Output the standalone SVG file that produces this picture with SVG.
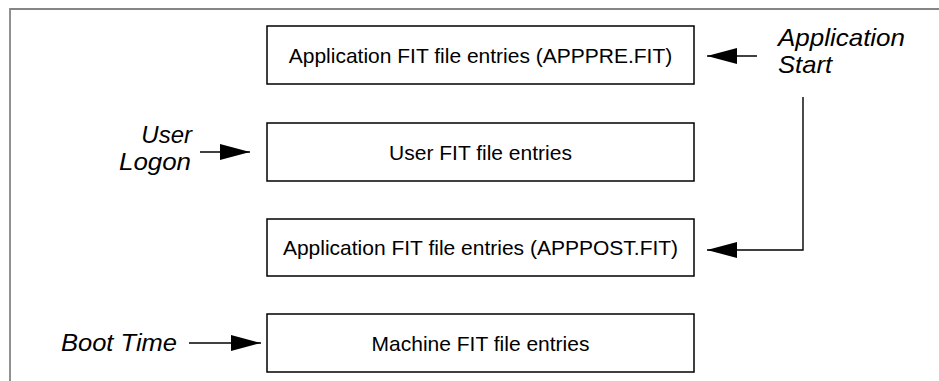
<svg xmlns="http://www.w3.org/2000/svg" width="939" height="381" viewBox="0 0 939 381">
<style>
.frame{fill:none;stroke:#858585;stroke-width:1.8}
.box{fill:#fff;stroke:#000;stroke-width:1.5}
.bt{font-family:"Liberation Sans",Arial,sans-serif;font-size:21px;fill:#000;text-anchor:middle}
.lb{font-family:"Liberation Sans",Arial,sans-serif;font-size:24px;font-style:italic;fill:#000}
.conn{fill:none;stroke:#000;stroke-width:1.4}
</style>
<defs>
<marker id="ah" markerUnits="userSpaceOnUse" markerWidth="30" markerHeight="16" refX="30" refY="8" orient="auto">
<path d="M0,0 L30,8 L0,16 z" fill="#000"/>
</marker>
</defs>
<rect width="939" height="381" fill="#fff"/>
<path class="frame" d="M10,381 V9 H939"/>
<g id="node-apppre">
<rect class="box" x="267" y="26" width="427" height="58"/>
<text class="bt" x="480.5" y="62.5">Application FIT file entries (APPPRE.FIT)</text>
</g>
<g id="node-user">
<rect class="box" x="267" y="123" width="427" height="58"/>
<text class="bt" x="480.5" y="159.5">User FIT file entries</text>
</g>
<g id="node-apppost">
<rect class="box" x="267" y="219" width="427" height="57"/>
<text class="bt" x="480.5" y="255">Application FIT file entries (APPPOST.FIT)</text>
</g>
<g id="node-machine">
<rect class="box" x="267" y="314" width="427" height="58"/>
<text class="bt" x="480.5" y="350.5">Machine FIT file entries</text>
</g>
<g id="label-appstart">
<text class="lb" x="778" y="46" textLength="127" lengthAdjust="spacingAndGlyphs">Application</text>
<text class="lb" x="778" y="73" textLength="54" lengthAdjust="spacingAndGlyphs">Start</text>
</g>
<g id="label-userlogon">
<text class="lb" x="192" y="143" text-anchor="end">User</text>
<text class="lb" x="191" y="170" text-anchor="end" textLength="72" lengthAdjust="spacingAndGlyphs">Logon</text>
</g>
<g id="label-boottime">
<text class="lb" x="177" y="351" text-anchor="end" textLength="116" lengthAdjust="spacingAndGlyphs">Boot Time</text>
</g>
<g id="connectors">
<line class="conn" x1="757" y1="56" x2="707" y2="56" marker-end="url(#ah)"/>
<line class="conn" x1="200" y1="152" x2="250" y2="152" marker-end="url(#ah)"/>
<polyline class="conn" points="803,97 803,250 707,250" marker-end="url(#ah)"/>
<line class="conn" x1="189" y1="343" x2="261" y2="343" marker-end="url(#ah)"/>
</g>
</svg>
